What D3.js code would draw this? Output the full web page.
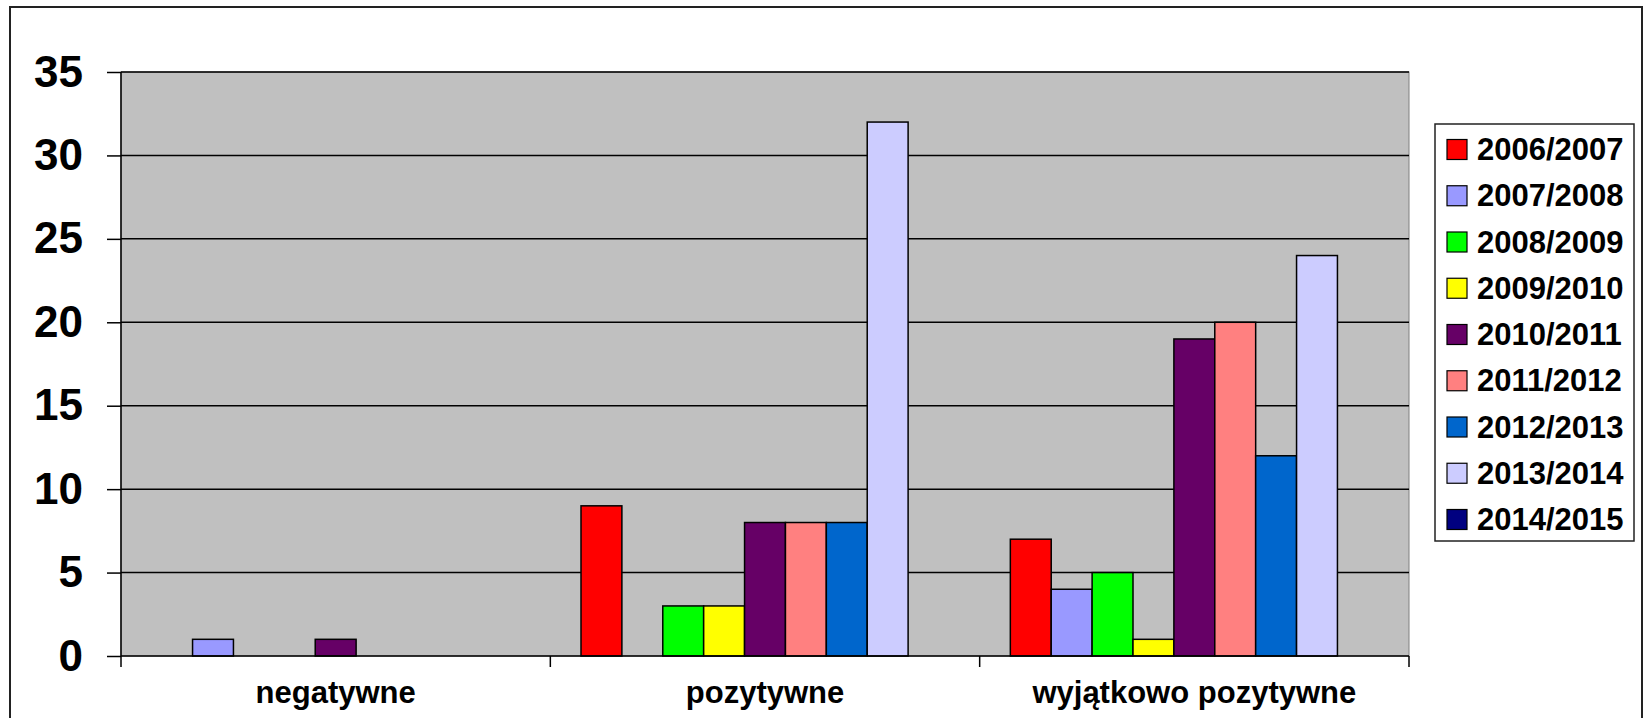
<!DOCTYPE html>
<html>
<head>
<meta charset="utf-8">
<script src="https://cdn.jsdelivr.net/npm/d3@7"></script>
<style>
  body { margin: 0; background: #fff; }
  text { font-family: "Liberation Sans", Arial, sans-serif; font-weight: bold; }
</style>
</head>
<body>
<div id="chart"></div>
<script>
// chart data
var categories = ["negatywne", "pozytywne", "wyjątkowo pozytywne"];
var seasons = ["2006/2007", "2007/2008", "2008/2009", "2009/2010", "2010/2011",
               "2011/2012", "2012/2013", "2013/2014", "2014/2015"];
var colors = ["#ff0000", "#9999ff", "#00ff00", "#ffff00", "#660066",
              "#ff8080", "#0066cc", "#ccccff", "#000080"];
// one row per season, one value per category
var values = [
  [0, 9, 7],
  [1, 0, 4],
  [0, 3, 5],
  [0, 3, 1],
  [1, 8, 19],
  [0, 8, 20],
  [0, 8, 12],
  [0, 32, 24],
  [0, 0, 0]
];
var yTicks = [0, 5, 10, 15, 20, 25, 30, 35];

var width = 1645, height = 718;
var plot = {left: 121, right: 1409, top: 72, bottom: 656};

var svg = d3.select("div#chart")
    .append("svg")
    .attr("width", width)
    .attr("height", height);

// outer border of chart
svg.append("rect")
    .attr("x", 10).attr("y", 7)
    .attr("width", 1632).attr("height", 720)
    .attr("fill", "#fff")
    .attr("stroke", "#222").attr("stroke-width", 2);

var x = d3.scaleBand()
    .domain(categories)
    .range([plot.left, plot.right]);

// 9 bars + gap of 150% of a bar
var barW = x.bandwidth() / (seasons.length + 1.5);

var y = d3.scaleLinear()
    .domain([0, 35])
    .range([plot.bottom, plot.top]);

// plot background
svg.append("rect")
    .attr("x", plot.left).attr("y", plot.top)
    .attr("width", plot.right - plot.left)
    .attr("height", plot.bottom - plot.top)
    .attr("fill", "#c0c0c0")
    .attr("stroke", "#808080").attr("stroke-width", 1);

// gridlines
svg.selectAll("line.grid")
    .data(yTicks.filter((d) => d > 0))
    .enter()
    .append("line")
    .attr("class", "grid")
    .attr("x1", plot.left).attr("x2", plot.right)
    .attr("y1", (d) => y(d)).attr("y2", (d) => y(d))
    .attr("stroke", "#000").attr("stroke-width", 1.5);

// bars
var bars = [];
values.forEach((row, s) => {
  row.forEach((v, c) => {
    if (v > 0) bars.push({s: s, c: c, v: v});
  });
});

svg.selectAll("rect.bar")
    .data(bars)
    .enter()
    .append("rect")
    .attr("class", "bar")
    .attr("x", (d) => x(categories[d.c]) + 0.75 * barW + d.s * barW)
    .attr("y", (d) => y(d.v))
    .attr("width", barW)
    .attr("height", (d) => y(0) - y(d.v))
    .attr("fill", (d) => colors[d.s])
    .attr("stroke", "#000").attr("stroke-width", 1.5);

// y axis
var yAxis = svg.append("g")
    .attr("transform", "translate(" + plot.left + ",0)")
    .call(d3.axisLeft(y).tickValues(yTicks).tickSize(14).tickPadding(24));
yAxis.selectAll("path, line").attr("stroke", "#000").attr("stroke-width", 1.5);
yAxis.select("path.domain").attr("d", "M0," + plot.top + "V" + plot.bottom);
yAxis.selectAll("text")
    .attr("font-size", 44)
    .attr("fill", "#000")
    .attr("font-family", "'Liberation Sans', Arial, sans-serif")
    .attr("font-weight", "bold");

// x axis
var xAxis = svg.append("g")
    .attr("transform", "translate(0," + plot.bottom + ")")
    .call(d3.axisBottom(x).tickSize(0).tickPadding(25));
xAxis.select("path.domain").attr("stroke", "#000").attr("stroke-width", 1.5)
    .attr("d", "M" + plot.left + ",0H" + plot.right);
xAxis.selectAll("text")
    .attr("font-size", 31)
    .attr("fill", "#000")
    .attr("font-family", "'Liberation Sans', Arial, sans-serif")
    .attr("font-weight", "bold");

// category boundary ticks
var bounds = categories.map((c) => x(c)).concat([plot.right]);
xAxis.selectAll("line.bound")
    .data(bounds)
    .enter()
    .append("line")
    .attr("class", "bound")
    .attr("x1", (d) => d).attr("x2", (d) => d)
    .attr("y1", 0).attr("y2", 11)
    .attr("stroke", "#000").attr("stroke-width", 1.5);

// legend
var legend = svg.append("g");
legend.append("rect")
    .attr("x", 1435).attr("y", 124)
    .attr("width", 199).attr("height", 417)
    .attr("fill", "#fff")
    .attr("stroke", "#222").attr("stroke-width", 1.5);

var item = legend.selectAll("g.item")
    .data(seasons)
    .enter()
    .append("g")
    .attr("class", "item")
    .attr("transform", (d, i) => "translate(1447," + (149 + i * 46.25) + ")");

item.append("rect")
    .attr("x", 0).attr("y", -9.5)
    .attr("width", 20).attr("height", 20)
    .attr("fill", (d, i) => colors[i])
    .attr("stroke", "#000").attr("stroke-width", 1.2);

item.append("text")
    .attr("x", 30).attr("y", 11)
    .attr("font-size", 31)
    .attr("fill", "#000")
    .text((d) => d);
</script>
</body>
</html>
